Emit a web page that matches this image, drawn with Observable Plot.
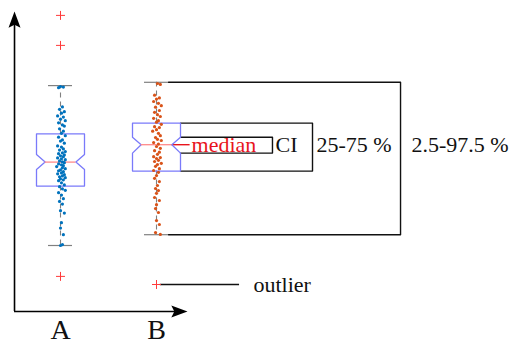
<!DOCTYPE html>
<html><head><meta charset="utf-8">
<script src="https://cdn.jsdelivr.net/npm/d3@7"></script>
<script src="https://cdn.jsdelivr.net/npm/@observablehq/plot@0.6"></script>
<style>body{margin:0;background:#fff;} #chart svg{display:block;}</style>
</head><body><div id="chart"></div>
<script>
// ---- data ----
const categories = ["A", "B"];
const catPos = [1, 2];
const q1 = [41.8, 46.8];
const q3 = [59.2, 62.8];
const medians = [49.8, 55.6];
const notchLo = [47.3, 52.8];
const notchHi = [52.3, 58.1];
const whiskLo = [22.0, 25.6];
const whiskHi = [75.3, 76.4];
const outliersA = [98.7, 88.7, 11.7];
const outliersB = [9.0];
// [value, jitter]
const pointsA = [[75.0,0.00],[74.8,0.03],[74.6,-0.02],
[68.2,0.02],[67.4,-0.01],[66.6,0.04],[66.1,0.01],[65.2,-0.03],[64.8,0.03],[64.1,0.00],[63.6,0.05],[62.9,-0.02],[62.2,0.02],[61.8,0.04],[60.9,-0.01],
[60.1,0.03],[59.4,0.01],[58.6,0.05],[58.1,-0.02],[57.2,0.02],[56.8,0.00],[56.1,0.04],[55.2,-0.03],[54.8,0.01],[54.2,0.03],[53.8,-0.01],[53.3,0.05],[52.9,0.02],[52.6,-0.02],[52.2,0.04],[51.9,0.00],[51.6,0.03],[51.2,-0.03],[50.9,0.01],[50.6,0.05],[50.2,-0.01],[49.9,0.02],[49.6,0.04],[49.2,-0.02],[48.9,0.01],[48.6,0.03],[48.3,-0.04],[47.9,0.02],[47.6,0.05],[47.2,0.00],[46.9,-0.02],[46.6,0.03],[46.2,0.01],[45.9,-0.03],[45.6,0.04],[45.2,0.02],[44.9,-0.01],[44.6,0.05],[44.2,0.00],[43.9,0.03],[43.6,-0.02],[42.9,0.01],[42.2,0.04],[41.6,-0.01],[40.9,0.02],[40.4,0.05],[39.6,-0.02],[38.8,0.01],[37.6,0.03],[36.7,-0.01],[35.8,0.02],[33.6,0.00],[32.8,0.04],[29.6,0.01],[27.8,0.00],[25.6,0.03],[22.3,0.02],[22.0,0.00]];
const pointsB = [[76.0,0.01],[75.7,0.04],[72.1,-0.02],[71.2,0.03],[70.8,0.00],[70.0,-0.03],[69.4,0.02],[68.6,0.05],[68.1,-0.01],[67.0,0.03],[66.4,-0.02],[65.6,0.01],[65.0,0.04],[64.4,-0.03],[63.6,0.02],[63.1,0.00],[62.4,0.05],[61.6,-0.02],[61.3,0.03],[60.6,0.00],[60.1,-0.04],[59.4,0.02],[58.6,0.04],[58.0,-0.01],[57.4,0.01],[57.0,0.05],[56.3,-0.03],[55.8,0.02],[55.0,0.00],[54.4,0.04],[53.6,-0.02],[53.1,0.03],[52.4,0.01],[51.6,-0.03],[51.3,0.04],[51.0,0.00],[50.4,0.02],[50.0,-0.02],[49.4,0.05],[49.0,0.01],[48.4,-0.01],[47.6,0.03],[47.0,-0.03],[46.4,0.02],[45.3,0.00],[44.4,-0.02],[43.3,0.03],[42.0,0.01],[41.0,-0.01],[40.3,0.02],[39.4,0.00],[38.0,-0.02],[37.0,0.03],[35.6,0.00],[34.3,-0.01],[33.0,0.02],[30.3,0.00],[29.0,0.03],[26.3,-0.01],[25.7,0.04]];
const annotationLabels = ["median", "CI", "25-75 %", "2.5-97.5 %", "outlier"];

// ---- layout (x in category units) ----
const boxHalf = 0.25, notchHalf = 0.16, capHalf = 0.125;
const axisX = 0.521, xTip = 2.323;
const xCI = 3.208, xIQR = 3.625, xW = 4.542;

// box polygons
const boxes = [];
catPos.forEach((c, i) => {
  const L = c - boxHalf, R = c + boxHalf, iL = c - notchHalf, iR = c + notchHalf;
  const pts = [[L,q1[i]],[L,notchLo[i]],[iL,medians[i]],[L,notchHi[i]],[L,q3[i]],
               [R,q3[i]],[R,notchHi[i]],[iR,medians[i]],[R,notchLo[i]],[R,q1[i]],[L,q1[i]]];
  pts.forEach(p => boxes.push({x: p[0], y: p[1], k: categories[i]}));
});
const whiskers = [];
catPos.forEach((c, i) => {
  whiskers.push({x: c, y1: q3[i], y2: whiskHi[i]});
  whiskers.push({x: c, y1: q1[i], y2: whiskLo[i]});
});
const caps = [];
catPos.forEach((c, i) => {
  caps.push({x1: c - capHalf, x2: c + capHalf, y: whiskHi[i]});
  caps.push({x1: c - capHalf, x2: c + capHalf, y: whiskLo[i]});
});
const meds = catPos.map((c, i) => ({x1: c - notchHalf, x2: c + notchHalf, y: medians[i]}));
const dots = [
  ...pointsA.map(([v, j]) => ({x: catPos[0] + j, y: v, k: "A"})),
  ...pointsB.map(([v, j]) => ({x: catPos[1] + j, y: v, k: "B"}))
];
const outs = [
  ...outliersA.map(v => ({x: catPos[0], y: v})),
  ...outliersB.map(v => ({x: catPos[1], y: v}))
];

// annotation brackets for B
const b = 1, bx = catPos[b];
const brackets = [];
[[bx + capHalf, whiskHi[b], xW, whiskLo[b], "w"],
 [bx + boxHalf, q3[b], xIQR, q1[b], "q"],
 [bx + boxHalf, notchHi[b], xCI, notchLo[b], "c"]].forEach(([x0, yt, xr, yb, k]) => {
  brackets.push({x: x0, y: yt, k}, {x: xr, y: yt, k}, {x: xr, y: yb, k}, {x: x0, y: yb, k});
});
const textY = medians[b];
const labels = [
  {x: 2.365, y: textY, t: annotationLabels[0], c: "#e8141c"},
  {x: 3.24, y: textY, t: annotationLabels[1], c: "#111"},
  {x: 3.667, y: textY, t: annotationLabels[2], c: "#111"},
  {x: 4.656, y: textY, t: annotationLabels[3], c: "#111"},
  {x: 3.01, y: outliersB[0], t: annotationLabels[4], c: "#111"}
];

const arrowUp = {draw(ctx, size) { const r = Math.sqrt(size / Math.PI);
  ctx.moveTo(0, 0); ctx.lineTo(r, 2.7 * r); ctx.lineTo(0, 2.2 * r); ctx.lineTo(-r, 2.7 * r); ctx.closePath(); }};
const arrowRight = {draw(ctx, size) { const r = Math.sqrt(size / Math.PI);
  ctx.moveTo(0, 0); ctx.lineTo(-2.7 * r, r); ctx.lineTo(-2.2 * r, 0); ctx.lineTo(-2.7 * r, -r); ctx.closePath(); }};

const chart = Plot.plot({
  width: 509, height: 345,
  marginLeft: 0, marginRight: 0, marginTop: 11, marginBottom: 34,
  style: {fontFamily: "'Liberation Serif', serif", background: "#fff", color: "#111"},
  x: {domain: [0.375, 5.677], axis: null},
  y: {domain: [0, 100], axis: null},
  marks: [
    Plot.axisX({ticks: catPos, tickFormat: (d) => categories[catPos.indexOf(d)], tickSize: 0, tickPadding: 8, fontSize: 28}),
    // axes with arrows
    Plot.ruleX([axisX], {y1: 0, y2: 96, stroke: "#000", strokeWidth: 1.6}),
    Plot.ruleY([0], {x1: axisX, x2: xTip - 0.1, stroke: "#000", strokeWidth: 1.6}),
    Plot.dot([{x: axisX, y: 100}], {x: "x", y: "y", symbol: arrowUp, r: 6, fill: "#000", stroke: "none"}),
    Plot.dot([{x: xTip, y: 0}], {x: "x", y: "y", symbol: arrowRight, r: 6, fill: "#000", stroke: "none"}),
    // annotation brackets
    Plot.line(brackets, {x: "x", y: "y", z: "k", stroke: "#111", strokeWidth: 1.4, curve: "linear"}),
    Plot.ruleY([outliersB[0]], {x1: bx + 0.04, x2: 2.865, stroke: "#111", strokeWidth: 1.4}),
    Plot.ruleY([medians[b]], {x1: bx + notchHalf, x2: 2.35, stroke: "#e8141c", strokeWidth: 1.4}),
    // whiskers
    Plot.ruleX(whiskers, {x: "x", y1: "y1", y2: "y2", stroke: "#808080", strokeWidth: 1.1, strokeDasharray: "5,4"}),
    Plot.ruleY(caps, {x1: "x1", x2: "x2", y: "y", stroke: "#808080", strokeWidth: 1.2}),
    // boxes
    Plot.line(boxes, {x: "x", y: "y", z: "k", stroke: "#7a7afa", strokeWidth: 1.3, curve: "linear"}),
    Plot.ruleY(meds, {x1: "x1", x2: "x2", y: "y", stroke: "#ff8a8a", strokeWidth: 1.3}),
    // points
    Plot.dot(dots, {x: "x", y: "y", r: 1.6, fill: (d) => d.k === "A" ? "#0072bd" : "#d95319", stroke: "none"}),
    // outliers
    Plot.dot(outs, {x: "x", y: "y", symbol: "plus", r: 3, stroke: "#ff3b3b", strokeWidth: 1, fill: "none"}),
    // labels
    Plot.text(labels, {x: "x", y: "y", text: "t", fill: "c", textAnchor: "start", fontSize: 22, dy: 0})
  ]
});
document.getElementById("chart").appendChild(chart);
</script>
</body></html>
